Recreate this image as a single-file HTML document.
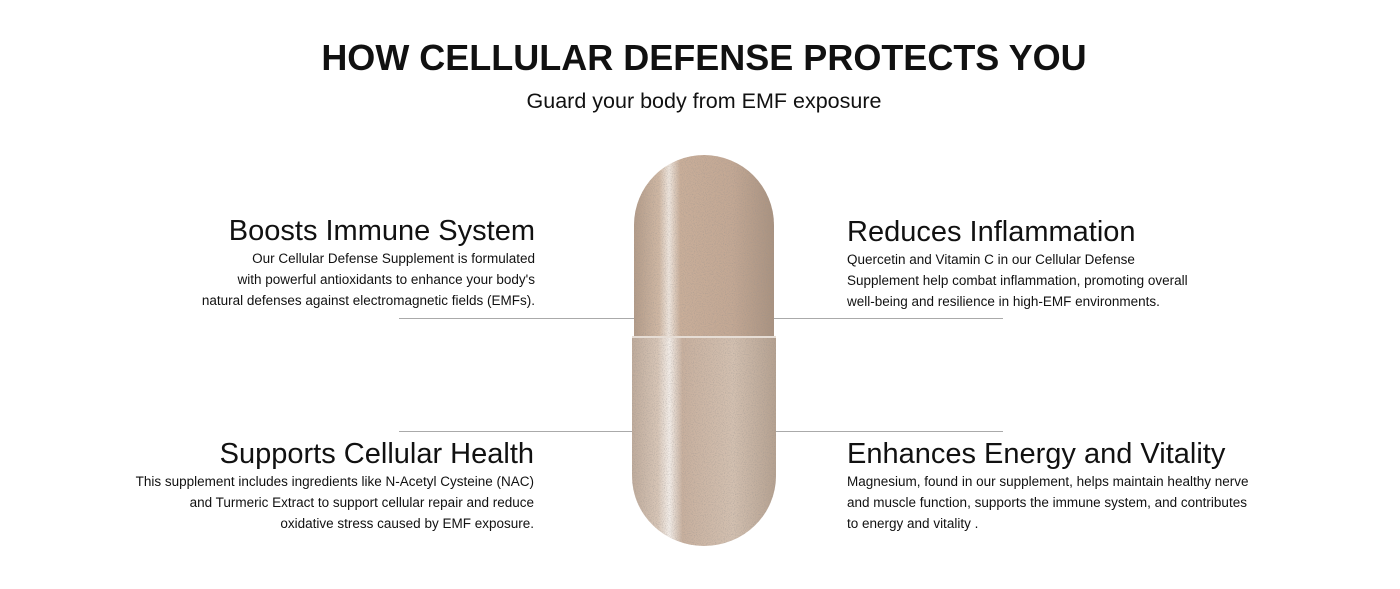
<!DOCTYPE html>
<html><head><meta charset="utf-8"><style>
body{margin:0;width:1400px;height:589px;background:#fff;font-family:"Liberation Sans",Arial,sans-serif;color:#111;position:relative;overflow:hidden}
.a{position:absolute;white-space:nowrap}
h1{position:absolute;margin:0;left:0;width:1408px;text-align:center;top:37px;font-size:36px;font-weight:bold}
.sub{top:89px;left:0;width:1408px;text-align:center;font-size:21.5px}
.h{font-size:29px;line-height:34px}
.p{font-size:13.5px;line-height:21px}
.r{text-align:right}
.ln{position:absolute;height:1px;background:#aaa}
</style></head><body>
<h1>HOW CELLULAR DEFENSE PROTECTS YOU</h1>
<div class="a sub">Guard your body from EMF exposure</div>

<div class="ln" style="left:399px;width:236px;top:318px"></div>
<div class="ln" style="left:772px;width:231px;top:318px"></div>
<div class="ln" style="left:399px;width:236px;top:431px"></div>
<div class="ln" style="left:772px;width:231px;top:431px"></div>

<div class="a r" style="right:865px;top:214px"><div class="h">Boosts Immune System</div><div class="p">Our Cellular Defense Supplement is formulated<br>with powerful antioxidants to enhance your body's<br>natural defenses against electromagnetic fields (EMFs).</div></div>
<div class="a r" style="right:866px;top:437px"><div class="h">Supports Cellular Health</div><div class="p">This supplement includes ingredients like N-Acetyl Cysteine (NAC)<br>and Turmeric Extract to support cellular repair and reduce<br>oxidative stress caused by EMF exposure.</div></div>
<div class="a" style="left:847px;top:215px"><div class="h">Reduces Inflammation</div><div class="p">Quercetin and Vitamin C in our Cellular Defense<br>Supplement help combat inflammation, promoting overall<br>well-being and resilience in high-EMF environments.</div></div>
<div class="a" style="left:847px;top:437px"><div class="h">Enhances Energy and Vitality</div><div class="p">Magnesium, found in our supplement, helps maintain healthy nerve<br>and muscle function, supports the immune system, and contributes<br>to energy and vitality .</div></div>

<svg class="a" style="left:626px;top:150px" width="160" height="400" viewBox="626 150 160 400">
<defs>
<linearGradient id="g" x1="0" x2="1"><stop offset="0" stop-color="#b39b88"/><stop offset="0.18" stop-color="#d0b8a4"/><stop offset="0.25" stop-color="#efe6de"/><stop offset="0.33" stop-color="#c9ae99"/><stop offset="0.7" stop-color="#c3a894"/><stop offset="1" stop-color="#a99280"/></linearGradient>
<linearGradient id="g2" x1="0" x2="1"><stop offset="0" stop-color="#bfab9b"/><stop offset="0.18" stop-color="#d8c6b7"/><stop offset="0.26" stop-color="#f3ede8"/><stop offset="0.35" stop-color="#c8b09e"/><stop offset="0.7" stop-color="#d3c0b0"/><stop offset="1" stop-color="#b5a190"/></linearGradient>
<filter id="n"><feTurbulence type="fractalNoise" baseFrequency="0.9" numOctaves="2" seed="3"/><feColorMatrix values="0 0 0 0 0.3 0 0 0 0 0.28 0 0 0 0 0.27 0 0 0 -2.2 1.2"/><feComposite in2="SourceGraphic" operator="in"/></filter>
</defs>
<path d="M634 337 L634 225 A70 70 0 0 1 774 225 L774 337 Z" fill="url(#g)"/>
<path d="M632 337 L776 337 L776 476 A72 70 0 0 1 632 476 Z" fill="url(#g2)"/>
<path d="M634 337 L634 225 A70 70 0 0 1 774 225 L774 337 Z M632 337 L776 337 L776 476 A72 70 0 0 1 632 476 Z" fill="#000" filter="url(#n)" opacity="0.5"/>
<line x1="632" y1="337" x2="776" y2="337" stroke="#e6ddd5" stroke-width="2"/>
</svg>
</body></html>
